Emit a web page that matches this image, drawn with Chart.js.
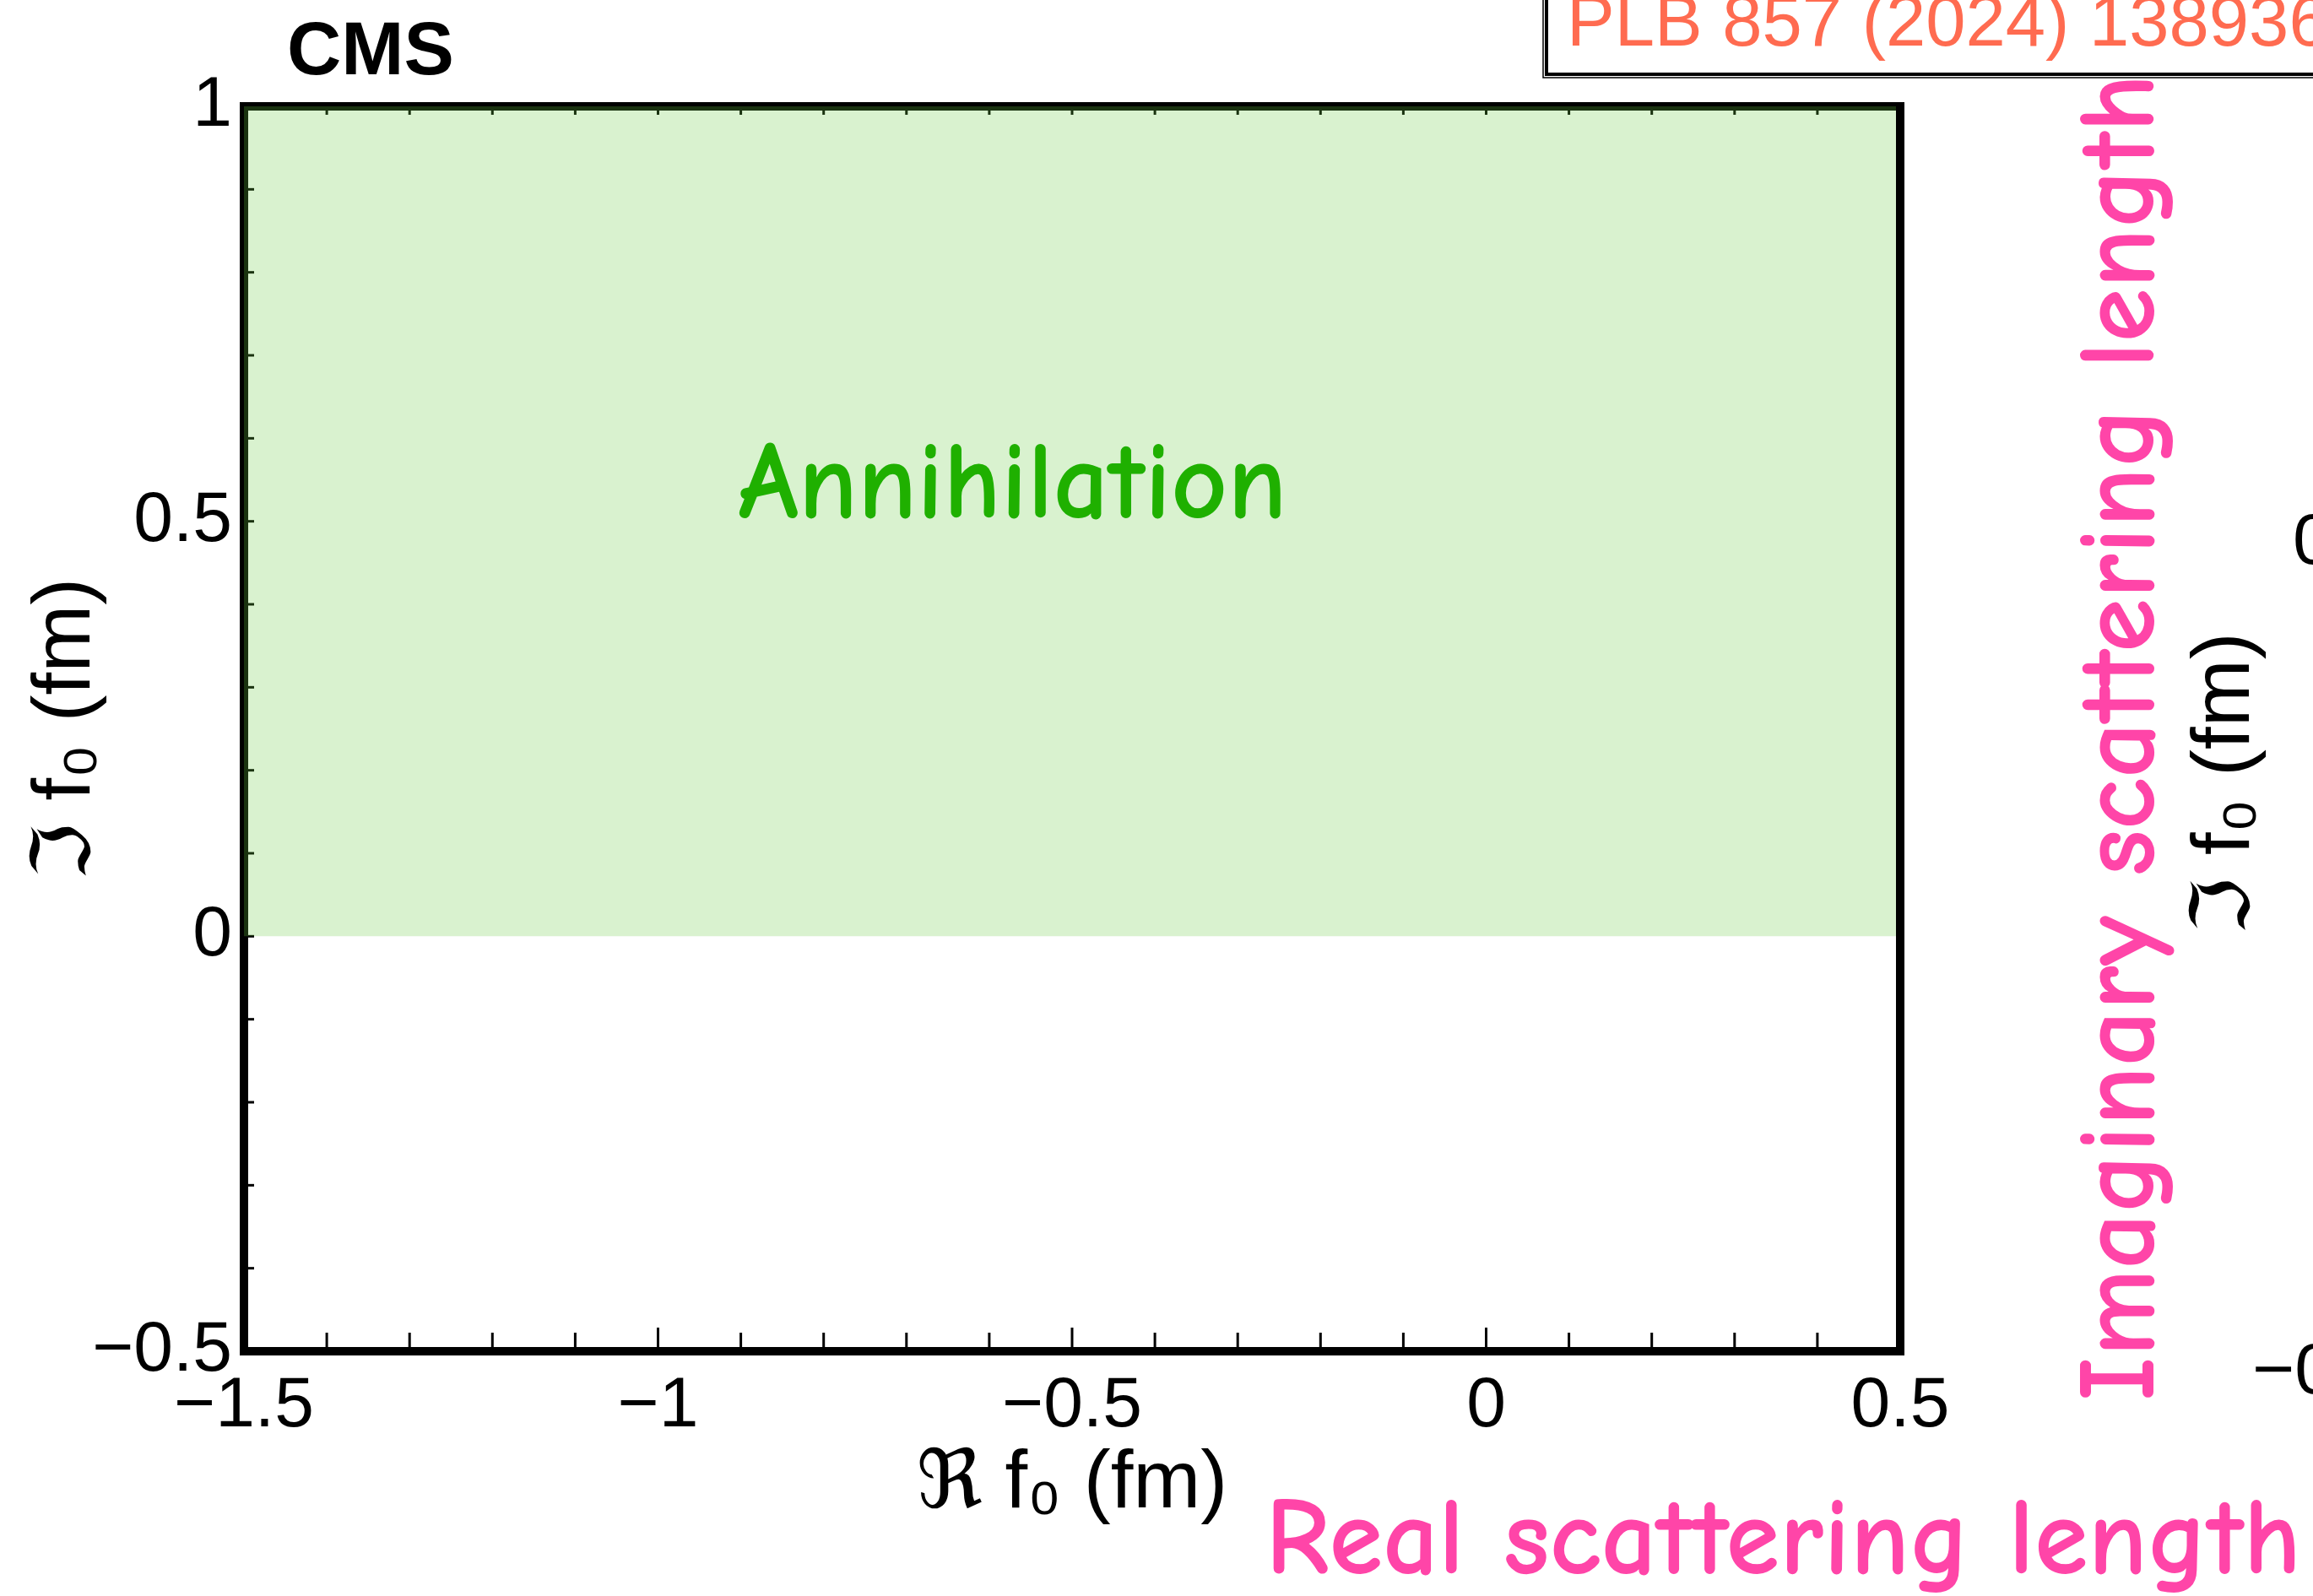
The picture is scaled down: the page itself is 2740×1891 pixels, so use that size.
<!doctype html>
<html>
<head>
<meta charset="utf-8">
<title>Scattering length - annihilation region</title>
<script src="https://cdn.jsdelivr.net/npm/chart.js@4.4.1/dist/chart.umd.min.js"></script>
<style>
  html, body { margin: 0; padding: 0; background: #fff; }
  #wrap { width: 2740px; height: 1891px; position: relative; }
</style>
</head>
<body>
<div id="wrap"><canvas id="myChart"></canvas></div>
<script>
  // axis ranges and tick labels
  const xRange = [-1.5, 0.5];
  const yRange = [-0.5, 1];
  const xTickValues = [-1.5, -1, -0.5, 0, 0.5];
  const xTickLabels = ['\u22121.5', '\u22121', '\u22120.5', '0', '0.5'];
  const yTickValues = [-0.5, 0, 0.5, 1];
  const yTickLabels = ['\u22120.5', '0', '0.5', '1'];

  // annihilation region (Im f0 > 0), runs a bit past the frame on both sides
  const regionX = [-1.6, 0.6];
  const regionY = [1, 1];

  const BASE = '"Liberation Sans", Arial, Helvetica, "DejaVu Sans", sans-serif';
  const HAND = '"Comic Sans MS", "Comic Neue", "Open Sans", sans-serif';

  function labelFor(values, labels, v) {
    for (let i = 0; i < values.length; i++) {
      if (Math.abs(values[i] - v) < 1e-6) return labels[i];
    }
    return '';
  }

  // font size that makes text span a given width
  function fitFont(ctx, text, family, weight, width) {
    ctx.font = weight + ' 100px ' + family;
    const w = ctx.measureText(text).width;
    return weight + ' ' + (100 * width / w).toFixed(1) + 'px ' + family;
  }

  // frame and inward ticks, drawn below the fill like in the original
  const frame = {
    id: 'frame',
    beforeDatasetsDraw(chart) {
      const {ctx, chartArea: a, scales: {x, y}} = chart;
      ctx.save();
      ctx.strokeStyle = '#000';
      ctx.lineWidth = 3;
      x.ticks.forEach(t => {
        const px = x.getPixelForValue(t.value);
        const major = labelFor(xTickValues, xTickLabels, t.value) !== '';
        ctx.beginPath();
        ctx.moveTo(px, a.bottom);
        ctx.lineTo(px, a.bottom - (major ? 28 : 22));
        ctx.moveTo(px, a.top);
        ctx.lineTo(px, a.top + 10);
        ctx.stroke();
      });
      y.ticks.forEach(t => {
        const py = y.getPixelForValue(t.value);
        ctx.beginPath();
        ctx.moveTo(a.left, py);
        ctx.lineTo(a.left + 12, py);
        ctx.stroke();
      });
      ctx.lineWidth = 10;
      ctx.strokeRect(a.left, a.top, a.right - a.left, a.bottom - a.top);
      ctx.restore();
    }
  };

  const notes = {
    id: 'notes',
    afterDraw(chart) {
      const {ctx, scales: {x, y}} = chart;
      ctx.save();

      // experiment label
      ctx.fillStyle = '#000';
      ctx.textAlign = 'left';
      ctx.textBaseline = 'alphabetic';
      ctx.font = 'bold 89px ' + BASE;
      ctx.fillText('CMS', 340, 88);

      // reference box, cut by the top and right edges
      ctx.fillStyle = '#ff6b50';
      ctx.font = '85px ' + BASE;
      ctx.fillText('PLB 857 (2024) 138936', 1856, 54);
      ctx.strokeStyle = '#000';
      ctx.lineWidth = 4;
      ctx.strokeRect(1832, -20, 1000, 108);
      ctx.lineWidth = 1.5;
      ctx.strokeRect(1828, -20, 1000, 112);

      // region name
      ctx.fillStyle = '#1fb000';
      ctx.textAlign = 'center';
      ctx.font = fitFont(ctx, 'Annihilation', HAND, 'bold', 650);
      ctx.fillText('Annihilation', x.getPixelForValue(-0.572), y.getPixelForValue(0.505));

      // hand-written hints
      ctx.fillStyle = '#ff45a8';
      ctx.textAlign = 'left';
      ctx.font = fitFont(ctx, 'Real scattering length', HAND, 'bold', 1227);
      ctx.fillText('Real scattering length', 1499, 1864);
      ctx.save();
      ctx.translate(2551, 1660);
      ctx.rotate(-Math.PI / 2);
      ctx.font = fitFont(ctx, 'Imaginary scattering length', HAND, 'bold', 1573);
      ctx.fillText('Imaginary scattering length', 0, 0);
      ctx.restore();

      // edge of the neighbouring panel
      ctx.fillStyle = '#000';
      ctx.font = '86px ' + BASE;
      ctx.textBaseline = 'middle';
      ctx.fillText('0.5', 2716, 644);
      ctx.fillText('\u22120.5', 2668, 1627);
      ctx.save();
      ctx.translate(2638, 928);
      ctx.rotate(-Math.PI / 2);
      ctx.textAlign = 'center';
      ctx.font = '96px ' + BASE;
      ctx.fillText('\u2111 f\u2080 (fm)', 0, 0);
      ctx.restore();

      ctx.restore();
    }
  };

  const ctx = document.getElementById('myChart').getContext('2d');
  const myChart = new Chart(ctx, {
    type: 'scatter',
    data: {
      datasets: [{
        label: 'Annihilation',
        data: regionX.map((v, i) => ({x: v, y: regionY[i]})),
        showLine: true,
        pointRadius: 0,
        borderWidth: 0,
        borderColor: 'rgba(0,0,0,0)',
        backgroundColor: 'rgba(102, 204, 64, 0.25)',
        fill: 'origin',
        clip: {left: 8, top: 0, right: -5, bottom: 0}
      }]
    },
    options: {
      responsive: true,
      maintainAspectRatio: false,
      animation: false,
      layout: {
        padding: {left: 0, top: 126, right: 489, bottom: 0}
      },
      scales: {
        x: {
          type: 'linear',
          min: xRange[0],
          max: xRange[1],
          afterFit: s => { s.height = 290; },
          grid: {display: false, drawTicks: false},
          border: {display: false},
          ticks: {
            stepSize: 0.1,
            autoSkip: false,
            maxRotation: 0,
            padding: 15,
            color: '#000',
            font: {family: BASE, size: 84},
            callback: v => labelFor(xTickValues, xTickLabels, v)
          },
          title: {
            display: true,
            text: '\u211C f\u2080 (fm)',
            color: '#000',
            font: {family: BASE, size: 96},
            padding: {top: 0, bottom: 74}
          }
        },
        y: {
          type: 'linear',
          min: yRange[0],
          max: yRange[1],
          afterFit: s => { s.width = 289; },
          grid: {display: false, drawTicks: false},
          border: {display: false},
          ticks: {
            stepSize: 0.1,
            autoSkip: false,
            padding: 14,
            color: '#000',
            font: {family: BASE, size: 84},
            callback: v => labelFor(yTickValues, yTickLabels, v)
          },
          title: {
            display: true,
            text: '\u2111 f\u2080 (fm)',
            color: '#000',
            font: {family: BASE, size: 96},
            padding: {top: 22, bottom: 0}
          }
        }
      },
      plugins: {
        legend: {display: false},
        tooltip: {enabled: false},
        title: {display: false}
      }
    },
    plugins: [frame, notes]
  });
</script>
</body>
</html>
